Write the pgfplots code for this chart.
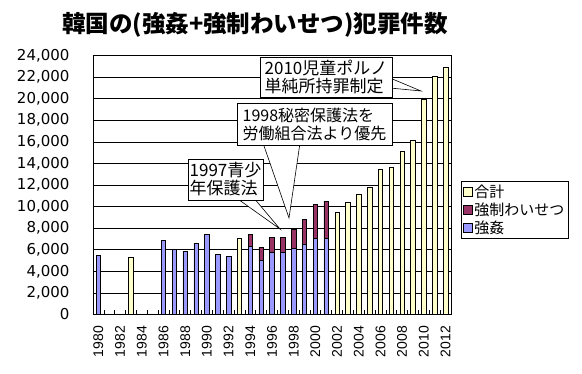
\documentclass[border=0pt]{standalone}
\usepackage{fontspec}
\setmainfont{Noto Sans CJK JP}
\newfontfamily\numfont{DejaVu Sans}
\newfontfamily\xfont{Liberation Sans}
\usepackage{pgfplots}
\usepackage{pgfplotstable}
\pgfplotsset{compat=1.18}
\definecolor{cblue}{HTML}{9999FF}
\definecolor{cred}{HTML}{993366}
\definecolor{cyel}{HTML}{FFFFCC}

\pgfplotstableread{
year rape indec total
1980 5480 0 0
1981 0 0 0
1982 0 0 0
1983 0 0 5300
1984 0 0 0
1985 0 0 0
1986 6870 0 0
1987 6000 0 0
1988 5880 0 0
1989 6620 0 0
1990 7430 0 0
1991 5600 0 0
1992 5420 0 0
1993 0 0 7060
1994 6280 1160 0
1995 4980 1240 0
1996 5720 1430 0
1997 5720 1430 0
1998 6130 1790 0
1999 6470 2340 0
2000 7020 3190 0
2001 7020 3470 0
2002 0 0 9490
2003 0 0 10420
2004 0 0 11160
2005 0 0 11780
2006 0 0 13500
2007 0 0 13630
2008 0 0 15120
2009 0 0 16130
2010 0 0 19950
2011 0 0 22060
2012 0 0 22900
}\data

\begin{document}
\begin{tikzpicture}[x=1pt,y=1pt]
\path[use as bounding box] (0,0) rectangle (582,374);
\begin{axis}[
  at={(93pt,59.5pt)}, anchor=south west,
  scale only axis, width=358pt, height=259pt,
  ybar stacked, bar width=4.5pt,
  xmin=1979.5, xmax=2012.5, ymin=0, ymax=24000,
  axis line style={line width=0.8pt},
  tick align=inside, tick pos=left,
  xtick={1980,1982,...,2012},
  xticklabels={1980,1982,1984,1986,1988,1990,1992,1994,1996,1998,2000,2002,2004,2006,2008,2010,2012},
  minor xtick={1980.5,1981.5,...,2011.5},
  major x tick style={draw=none},
  minor x tick style={black, line width=0.6pt},
  minor tick length=4pt,
  xticklabel style={yshift=-8pt, rotate=90, anchor=east, font=\xfont\fontsize{14}{14}\selectfont},
  ytick={0,2000,...,24000},
  scaled y ticks=false,
  major tick length=4pt,
  y tick style={black, line width=0.6pt},
  yticklabel style={xshift=-20pt, font=\numfont\fontsize{15}{15}\selectfont,
    /pgf/number format/1000 sep={,}, /pgf/number format/assume math mode=true},
  ymajorgrids, grid style={black, line width=0.6pt},
  reverse legend,
  legend style={at={(1.028,0.515)}, anchor=north west, draw=black, line width=0.6pt,
    font=\fontsize{15}{15}\selectfont, inner sep=1.5pt, row sep=0pt, legend cell align=left},
  legend image code/.code={\draw[#1, draw=black, line width=0.6pt] (0pt,-4.5pt) rectangle (9pt,4.5pt);},
]
\addplot[fill=cblue, draw=black, line width=0.6pt] table[x=year, y=rape]{\data};
\addlegendentry{強姦}
\addplot[fill=cred, draw=black, line width=0.6pt] table[x=year, y=indec]{\data};
\addlegendentry{強制わいせつ}
\addplot[fill=cyel, draw=black, line width=0.6pt] table[x=year, y=total]{\data};
\addlegendentry{合計}
\end{axis}

\node[font=\bfseries\fontsize{23.5}{24}\selectfont] at (255,349) {韓国の(強姦+強制わいせつ)犯罪件数};

% callout 1
\draw[fill=white, line width=0.6pt] (235,177) -- (280,145) -- (253,177);
\draw[fill=white, line width=0.6pt] (188,174) rectangle (263,215);
\node[align=left, font=\fontsize{17}{18}\selectfont, inner sep=0pt] at (225.5,194.5) {1997青少\\年保護法};
% callout 2
\draw[fill=white, line width=0.6pt] (263,231) -- (289,156) -- (300,231);
\draw[fill=white, line width=0.6pt] (237,229) rectangle (392,271);
\node[align=left, font=\fontsize{16}{18}\selectfont, inner sep=0pt] at (314.5,250) {1998秘密保護法を\\労働組合法より優先};
% callout 3
\draw[fill=white, line width=0.6pt] (390,296) -- (421,283) -- (390,286);
\draw[fill=white, line width=0.6pt] (260,277) rectangle (392,317);
\node[align=left, font=\fontsize{17}{18}\selectfont, inner sep=0pt] at (326,297) {2010児童ポルノ\\単純所持罪制定};
\end{tikzpicture}
\end{document}
